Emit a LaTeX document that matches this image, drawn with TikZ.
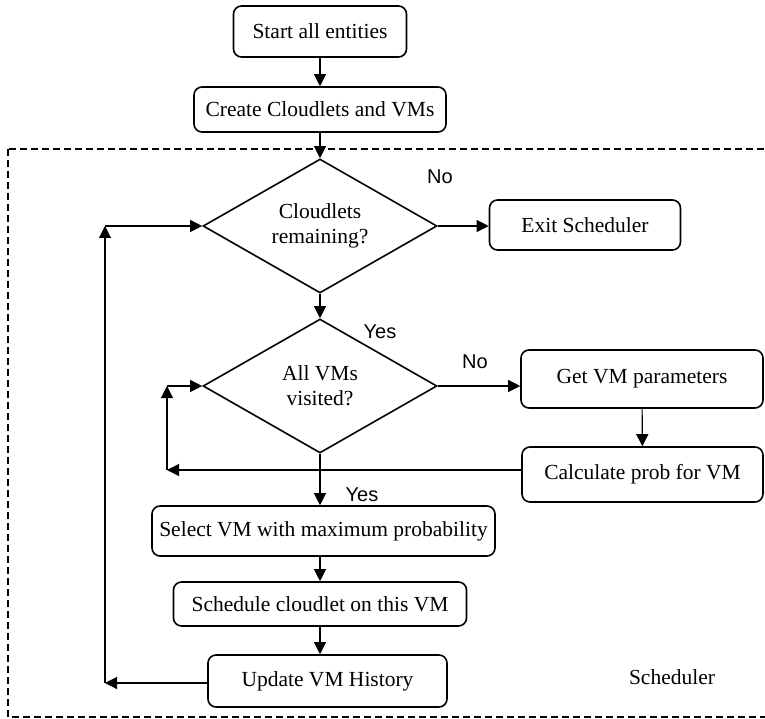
\documentclass[tikz,border=0pt]{standalone}
\usepackage{fontspec}
\setmainfont{Liberation Serif}
\setsansfont{Liberation Sans}
\usetikzlibrary{shapes.geometric,arrows.meta}
\begin{document}
\begin{tikzpicture}[x=1pt,y=-1pt,
  box/.style={draw,line width=1.6pt,rounded corners=8pt,inner sep=0pt,font=\fontsize{21.5}{25}\selectfont},
  dec/.style={draw,line width=1.6pt,diamond,aspect=1.746,inner sep=0pt,minimum width=234pt,minimum height=134pt,align=center,font=\fontsize{21.5}{25}\selectfont},
  conn/.style={line width=1.1pt,-{Triangle[length=12pt,width=12pt]}},
  lbl/.style={font=\sffamily\fontsize{20}{24}\selectfont,inner sep=0pt},
  plain/.style={font=\fontsize{21.5}{25}\selectfont,inner sep=0pt}]
\useasboundingbox (0,0) rectangle (765,719);
\draw[line width=1.4pt,dash pattern=on 7pt off 4pt] (8,149) rectangle (775,717);
\node[box,minimum width=173pt,minimum height=51pt] (start) at (320,31.5) {Start all entities};
\node[box,minimum width=252pt,minimum height=45pt] (create) at (320,109.5) {Create Cloudlets and VMs};
\node[dec] (d1) at (320,226) {Cloudlets\\remaining?};
\node[box,minimum width=191pt,minimum height=50pt] (exit) at (585,225) {Exit Scheduler};
\node[dec] (d2) at (320,386) {All VMs\\visited?};
\node[box,minimum width=242pt,minimum height=58pt] (getvm) at (642,379) {Get VM parameters};
\node[box,minimum width=241pt,minimum height=55pt] (calc) at (642.5,474.5) {Calculate prob for VM};
\node[box,minimum width=343pt,minimum height=50pt] (select) at (323.5,531) {Select VM with maximum probability};
\node[box,minimum width=293pt,minimum height=44pt] (sched) at (320,604) {Schedule cloudlet on this VM};
\node[box,minimum width=239pt,minimum height=52pt] (update) at (327.5,681) {Update VM History};
\node[plain] (schedlbl) at (672,677) {Scheduler};
\node[lbl] (no1) at (440,177) {No};
\node[lbl] (yes1) at (380,332) {Yes};
\node[lbl] (no2) at (475,362) {No};
\node[lbl] (yes2) at (362,495) {Yes};
\coordinate (c1) at (167,470);
\coordinate (c2) at (167,386);
\coordinate (o1) at (105,683);
\coordinate (o2) at (105,226);
\draw[conn] (start.south) -- (start.south |- create.north);
\draw[conn] (create.south -| d1.north) -- (d1.north);
\draw[conn] (d1) -- (d2);
\draw[conn] (d1.east) -- (exit.west |- d1.east);
\draw[conn] (d2.east) -- (d2.east -| getvm.west);
\draw[conn] (getvm) -- (calc);
\draw[conn] (calc.west |- c1) -- (c1);
\draw[conn] (c1) -- (c2);
\draw[conn] (c2) -- (d2.west);
\draw[conn] (d2.south) -- (d2.south |- select.north);
\draw[conn] (select.south -| sched.north) -- (sched.north);
\draw[conn] (sched.south) -- (sched.south |- update.north);
\draw[conn] (update.west |- o1) -- (o1);
\draw[conn] (o1) -- (o2);
\draw[conn] (o2) -- (d1.west);
\end{tikzpicture}
\end{document}
